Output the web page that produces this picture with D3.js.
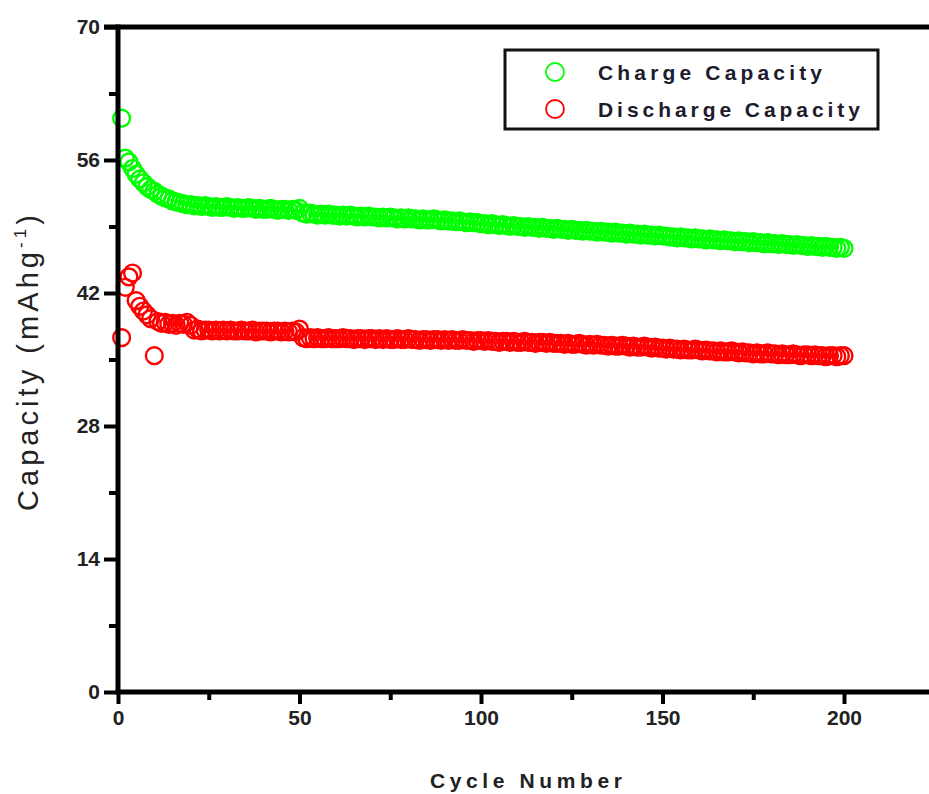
<!DOCTYPE html>
<html>
<head>
<meta charset="utf-8">
<script src="https://cdn.jsdelivr.net/npm/d3@7/dist/d3.min.js"></script>
<style>
  html, body { margin: 0; padding: 0; background: #fff; }
  svg { display: block; }
</style>
</head>
<body>
<svg id="chart" width="929" height="794"></svg>
<script>
// ---------------- DATA ----------------
const seriesNames = ["Charge Capacity", "Discharge Capacity"];
const xTicks = [0, 50, 100, 150, 200];
const xMinorTicks = [25, 75, 125, 175, 225];
const yTicks = [0, 14, 28, 42, 56, 70];
const yMinorTicks = [7, 21, 35, 49, 63];

const chargeCapacity = [
  60.4, 56.2, 55.8, 55.1, 54.5, 54.0, 53.6, 53.2, 52.9, 52.7,
  52.4, 52.2, 52.0, 51.9, 51.7, 51.6, 51.5, 51.4, 51.3, 51.3,
  51.2, 51.2, 51.1, 51.2, 51.1, 51.0, 51.1, 51.0, 51.0, 51.1,
  51.0, 50.9, 51.0, 50.9, 50.9, 51.0, 50.9, 50.8, 50.9, 50.8,
  50.8, 50.9, 50.8, 50.7, 50.8, 50.8, 50.7, 50.8, 50.7, 50.9,
  50.4, 50.3, 50.4, 50.3, 50.2, 50.3, 50.2, 50.3, 50.2, 50.2,
  50.1, 50.2, 50.1, 50.2, 50.1, 50.0, 50.1, 50.0, 50.1, 50.0,
  50.0, 49.9, 50.0, 49.9, 50.0, 49.9, 49.8, 49.9, 49.8, 49.9,
  49.8, 49.8, 49.7, 49.8, 49.7, 49.7, 49.8, 49.7, 49.6, 49.7,
  49.6, 49.6, 49.5, 49.6, 49.5, 49.4, 49.5, 49.4, 49.4, 49.3,
  49.3, 49.2, 49.3, 49.2, 49.1, 49.2, 49.1, 49.0, 49.1, 49.0,
  49.0, 48.9, 49.0, 48.9, 48.9, 48.8, 48.9, 48.8, 48.8, 48.7,
  48.8, 48.7, 48.7, 48.6, 48.7, 48.6, 48.6, 48.5, 48.6, 48.5,
  48.5, 48.4, 48.5, 48.4, 48.4, 48.3, 48.4, 48.3, 48.3, 48.2,
  48.3, 48.2, 48.2, 48.1, 48.2, 48.1, 48.1, 48.0, 48.1, 48.0,
  48.0, 47.9, 47.9, 47.8, 47.9, 47.8, 47.8, 47.7, 47.8, 47.7,
  47.7, 47.6, 47.7, 47.6, 47.6, 47.5, 47.6, 47.5, 47.5, 47.4,
  47.5, 47.4, 47.4, 47.3, 47.4, 47.3, 47.3, 47.2, 47.3, 47.2,
  47.2, 47.1, 47.2, 47.1, 47.1, 47.0, 47.1, 47.0, 47.0, 46.9,
  47.0, 46.9, 46.9, 46.8, 46.9, 46.8, 46.8, 46.7, 46.8, 46.7
];

const dischargeCapacity = [
  37.3, 42.6, 43.7, 44.1, 41.2, 40.6, 40.1, 39.7, 39.3, 35.4,
  39.0, 38.8, 38.9, 38.7, 38.8, 38.6, 38.8, 38.7, 38.9, 38.6,
  38.1, 38.2, 38.0, 38.1, 38.1, 38.0, 38.1, 38.0, 38.1, 38.0,
  38.1, 38.0, 38.0, 38.1, 38.0, 38.0, 38.1, 37.9, 38.0, 38.0,
  38.0, 37.9, 38.0, 38.0, 37.9, 38.0, 37.9, 38.0, 37.9, 38.2,
  37.3, 37.2, 37.3, 37.2, 37.3, 37.2, 37.2, 37.3, 37.2, 37.2,
  37.2, 37.3, 37.2, 37.2, 37.1, 37.2, 37.2, 37.1, 37.2, 37.2,
  37.1, 37.2, 37.1, 37.2, 37.1, 37.1, 37.2, 37.1, 37.1, 37.2,
  37.1, 37.1, 37.0, 37.1, 37.1, 37.0, 37.1, 37.1, 37.0, 37.1,
  37.0, 37.1, 37.0, 37.0, 37.1, 37.0, 37.0, 36.9, 37.0, 37.0,
  36.9, 37.0, 36.9, 36.9, 36.8, 36.9, 36.9, 36.8, 36.9, 36.8,
  36.8, 36.9, 36.8, 36.8, 36.7, 36.8, 36.8, 36.7, 36.8, 36.7,
  36.7, 36.7, 36.6, 36.7, 36.6, 36.6, 36.7, 36.6, 36.5, 36.6,
  36.5, 36.6, 36.5, 36.5, 36.4, 36.5, 36.4, 36.4, 36.5, 36.4,
  36.3, 36.4, 36.3, 36.3, 36.4, 36.3, 36.2, 36.3, 36.2, 36.2,
  36.1, 36.2, 36.1, 36.1, 36.0, 36.1, 36.0, 36.0, 36.1, 36.0,
  35.9, 36.0, 35.9, 35.9, 35.8, 35.9, 35.8, 35.8, 35.9, 35.8,
  35.7, 35.8, 35.7, 35.7, 35.6, 35.7, 35.6, 35.6, 35.7, 35.6,
  35.6, 35.5, 35.6, 35.5, 35.5, 35.6, 35.5, 35.4, 35.5, 35.5,
  35.4, 35.5, 35.4, 35.4, 35.3, 35.4, 35.4, 35.3, 35.4, 35.4
];

const colors = ["#00ff00", "#ff0000"];

// ---------------- CHART ----------------
const svg = d3.select("#chart");
const xLeft = 118, yTop = 27, yBottom = 692;
const pxPerCycle = (844 - 118) / 200;
const xMax = 235;

const x = d3.scaleLinear().domain([0, xMax]).range([xLeft, xLeft + xMax * pxPerCycle]);
const y = d3.scaleLinear().domain([0, 70]).range([yBottom, yTop]);

const font = "'Liberation Sans', Arial, sans-serif";

// data points
const series = [chargeCapacity, dischargeCapacity];
series.forEach((vals, si) => {
  svg.append("g")
    .selectAll("circle")
    .data(vals)
    .join("circle")
    .attr("cx", (d, i) => x(i + 1))
    .attr("cy", d => y(d))
    .attr("r", 8.4)
    .attr("fill", "none")
    .attr("stroke", colors[si])
    .attr("stroke-width", 2.4);
});

// axes (ticks)
function styleAxis(g) {
  g.select(".domain").remove();
  g.selectAll(".tick line").attr("stroke", "#000").attr("stroke-width", 4);
  g.selectAll(".tick text")
    .attr("fill", "#222")
    .attr("font-family", font)
    .attr("font-weight", "bold")
    .attr("font-size", 21);
}

svg.append("g")
  .attr("transform", `translate(${xLeft},0)`)
  .call(d3.axisLeft(y).tickValues(yTicks).tickSize(14).tickPadding(4).tickFormat(d3.format("d")))
  .call(styleAxis);
svg.append("g")
  .attr("transform", `translate(${xLeft},0)`)
  .call(d3.axisLeft(y).tickValues(yMinorTicks).tickSize(9).tickFormat(""))
  .call(styleAxis);

svg.append("g")
  .attr("transform", `translate(0,${yBottom})`)
  .call(d3.axisBottom(x).tickValues(xTicks).tickSize(12).tickPadding(6).tickFormat(d3.format("d")))
  .call(styleAxis);
svg.append("g")
  .attr("transform", `translate(0,${yBottom})`)
  .call(d3.axisBottom(x).tickValues(xMinorTicks).tickSize(8).tickFormat(""))
  .call(styleAxis);

// frame lines
svg.append("line").attr("x1", xLeft).attr("x2", xLeft).attr("y1", yTop - 2.5).attr("y2", yBottom + 2.5)
  .attr("stroke", "#000").attr("stroke-width", 5);
svg.append("line").attr("x1", xLeft - 14).attr("x2", 929).attr("y1", yTop).attr("y2", yTop)
  .attr("stroke", "#000").attr("stroke-width", 5);
svg.append("line").attr("x1", xLeft - 2.5).attr("x2", 929).attr("y1", yBottom).attr("y2", yBottom)
  .attr("stroke", "#000").attr("stroke-width", 5);

// axis titles
svg.append("text")
  .attr("x", 526).attr("y", 788)
  .attr("text-anchor", "middle")
  .attr("font-family", font).attr("font-weight", "bold").attr("font-size", 21)
  .attr("fill", "#222")
  .attr("textLength", 192).attr("lengthAdjust", "spacing")
  .text("Cycle Number");

const yl = svg.append("text")
  .attr("transform", "translate(38,511) rotate(-90)")
  .attr("text-anchor", "start")
  .attr("font-family", font).attr("font-size", 29)
  .attr("fill", "#222");
yl.append("tspan").text("Capacity (mAhg");
yl.append("tspan").attr("font-size", 17).attr("dy", -12).text("-1");
yl.append("tspan").attr("dy", 12).text(")");
// spread the title so it spans the same length as in the original figure
const natural = yl.node().getComputedTextLength();
const nChars = "Capacity (mAhg-1)".length;
yl.attr("letter-spacing", Math.max(0, (300 - natural) / nChars));

// legend
const legend = svg.append("g");
legend.append("rect")
  .attr("x", 505).attr("y", 50).attr("width", 373).attr("height", 79)
  .attr("fill", "#fff").attr("stroke", "#111").attr("stroke-width", 3);
const legendY = [72, 109];
const legendLen = [224, 262];
seriesNames.forEach((name, i) => {
  legend.append("circle")
    .attr("cx", 555).attr("cy", legendY[i]).attr("r", 9)
    .attr("fill", "none").attr("stroke", colors[i]).attr("stroke-width", 1.8);
  legend.append("text")
    .attr("x", 598).attr("y", legendY[i] + 7.5)
    .attr("font-family", font).attr("font-weight", "bold").attr("font-size", 21)
    .attr("fill", "#1c1c2c")
    .attr("textLength", legendLen[i]).attr("lengthAdjust", "spacing")
    .text(name);
});
</script>
</body>
</html>
